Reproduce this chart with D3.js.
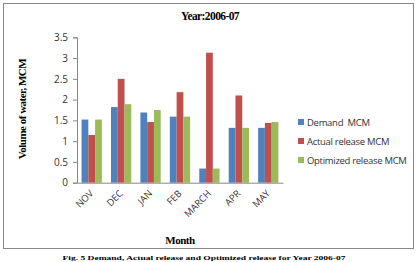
<!DOCTYPE html>
<html><head><meta charset="utf-8">
<script src="https://cdn.jsdelivr.net/npm/d3@7"></script>
<style>body{margin:0;background:#fff}svg{display:block}</style>
</head><body>
<script>
const months = ["NOV","DEC","JAN","FEB","MARCH","APR","MAY"];
const seriesNames = ["Demand  MCM","Actual release MCM","Optimized release MCM"];
const demand = [1.52,1.82,1.69,1.59,0.34,1.32,1.32];
const actual = [1.15,2.50,1.46,2.18,3.13,2.10,1.44];
const optimized = [1.52,1.89,1.75,1.59,0.34,1.32,1.46];
const yTicks = [0,0.5,1,1.5,2,2.5,3,3.5];
const colors = ["#4F81BD","#C0504D","#9BBB59"];

const W=418,H=262;
const sans="Open Sans, Liberation Sans, Arial, sans-serif";
const serif="Liberation Serif, Times New Roman, serif";
const svg=d3.select("body").append("svg").attr("width",W).attr("height",H);
svg.append("rect").attr("x",3.5).attr("y",3.5).attr("width",410).attr("height",245)
  .attr("fill","#fff").attr("stroke","#888").attr("stroke-width",1);

const x0=77,x1=283,yTop=37.3,yBot=182.7;
const x=d3.scaleBand().domain(months).range([x0,x1]).paddingInner(0.31).paddingOuter(0.155);
const xs=d3.scaleBand().domain([0,1,2]).range([0,x.bandwidth()]);
const y=d3.scaleLinear().domain([0,3.5]).range([yBot,yTop]);

const data=[demand,actual,optimized];
const g=svg.append("g");
data.forEach((vals,si)=>{
  g.selectAll(null).data(vals).enter().append("rect")
   .attr("x",(d,i)=>x(months[i])+xs(si))
   .attr("width",xs.bandwidth())
   .attr("y",d=>y(d)).attr("height",d=>y(0)-y(d))
   .attr("fill",colors[si]);
});

const yAxis=svg.append("g").attr("transform",`translate(${x0},0)`)
  .call(d3.axisLeft(y).tickValues(yTicks).tickSize(4).tickFormat(d=>d));
yAxis.select(".domain").attr("stroke","#888");
yAxis.selectAll(".tick line").attr("stroke","#888");
yAxis.selectAll("text").attr("font-family",sans).attr("font-size",10).attr("fill","#333").attr("x",-9);

const xAxis=svg.append("g").attr("transform",`translate(0,${yBot})`)
  .call(d3.axisBottom(x).tickSize(0).tickSizeOuter(0));
xAxis.select(".domain").attr("stroke","#888");
xAxis.selectAll("text").attr("font-family",sans).attr("font-size",9.5).attr("fill","#333")
  .attr("text-anchor","end").attr("dy","0.35em")
  .attr("transform","translate(0,9) rotate(-45)").attr("y",0).attr("x",0);

svg.append("text").attr("x",210).attr("y",20).attr("text-anchor","middle")
  .attr("font-family",serif).attr("font-weight","bold").attr("font-size",11.5)
  .attr("letter-spacing","-0.6").text("Year:2006-07");

svg.append("text").attr("transform","translate(26,109) rotate(-90)").attr("text-anchor","middle")
  .attr("font-family",serif).attr("font-weight","bold").attr("font-size",11)
  .attr("letter-spacing","-0.5").text("Volume of water, MCM");

svg.append("text").attr("x",180).attr("y",244).attr("text-anchor","middle")
  .attr("font-family",serif).attr("font-weight","bold").attr("font-size",11)
  .attr("letter-spacing","-0.5").text("Month");

const leg=svg.append("g");
seriesNames.forEach((n,i)=>{
  const ly=123+i*19;
  leg.append("rect").attr("x",298).attr("y",ly-4).attr("width",6).attr("height",6).attr("fill",colors[i]);
  leg.append("text").attr("x",307).attr("y",ly+3).attr("font-family",sans)
    .attr("font-size",9.5).attr("letter-spacing","-0.3").attr("fill","#333")
    .style("white-space","pre").text(n);
});

svg.append("text").attr("x",204).attr("y",259.5).attr("text-anchor","middle")
  .attr("font-family",serif).attr("font-weight","bold").attr("font-size",7)
  .attr("textLength",283).attr("lengthAdjust","spacingAndGlyphs")
  .text("Fig. 5 Demand, Actual release and Optimized release for Year 2006-07");
</script>
</body></html>
